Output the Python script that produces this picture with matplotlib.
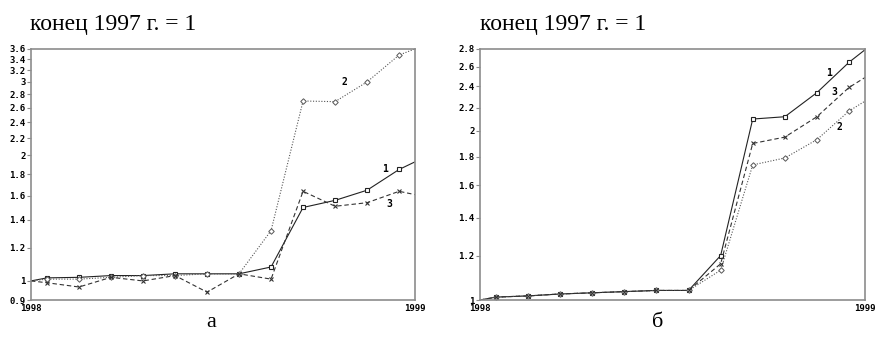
import matplotlib
matplotlib.use('Agg')
from matplotlib import pyplot as plt
from matplotlib.ticker import FixedLocator, FixedFormatter, NullLocator

# месяцы 1998 г.: начало, середины месяцев, конец
months = [0, 0.5, 1.5, 2.5, 3.5, 4.5, 5.5, 6.5, 7.5, 8.5, 9.5, 10.5, 11.5, 12]

# панель а
a_s1 = [1.0, 1.017, 1.02, 1.03, 1.03, 1.04, 1.04, 1.04, 1.08, 1.50, 1.56, 1.65, 1.85, 1.93]
a_s2 = [1.0, 1.01, 1.01, 1.02, 1.03, 1.03, 1.04, 1.04, 1.32, 2.70, 2.69, 3.00, 3.48, 3.60]
a_s3 = [1.0, 0.99, 0.967, 1.02, 1.0, 1.03, 0.94, 1.04, 1.01, 1.64, 1.51, 1.54, 1.64, 1.61]
a_ticks = [0.9, 1, 1.2, 1.4, 1.6, 1.8, 2, 2.2, 2.4, 2.6, 2.8, 3, 3.2, 3.4, 3.6]
a_ticklabels = ['0.9', '1', '1.2', '1.4', '1.6', '1.8', '2', '2.2', '2.4', '2.6', '2.8', '3', '3.2', '3.4', '3.6']

# панель б
b_s1 = [1.0, 1.012, 1.017, 1.025, 1.03, 1.035, 1.04, 1.04, 1.20, 2.10, 2.12, 2.34, 2.65, 2.79]
b_s2 = [1.0, 1.012, 1.017, 1.025, 1.03, 1.035, 1.04, 1.04, 1.13, 1.74, 1.79, 1.93, 2.17, 2.26]
b_s3 = [1.0, 1.012, 1.017, 1.025, 1.03, 1.035, 1.04, 1.04, 1.16, 1.90, 1.95, 2.12, 2.39, 2.49]
b_ticks = [1, 1.2, 1.4, 1.6, 1.8, 2, 2.2, 2.4, 2.6, 2.8]
b_ticklabels = ['1', '1.2', '1.4', '1.6', '1.8', '2', '2.2', '2.4', '2.6', '2.8']

x_ticklabels = ['1998', '1999']

title = 'конец 1997 г. = 1'
mono = dict(family='DejaVu Sans Mono', weight='bold', size=6.5)
axis_gray = '#8c8c8c'


def draw_panel(ax, s1, s2, s3, ticks, ticklabels, ylim, labels):
    mk = range(1, len(months) - 1)
    ax.plot(months, s1, color='#222222', lw=0.8, ls='-', marker='s', ms=3,
            mfc='white', mec='#222222', mew=0.8, markevery=mk)
    ax.plot(months, s2, color='#555555', lw=0.8, ls=(0, (1, 1.5)), marker='D', ms=2.8,
            mfc='white', mec='#555555', mew=0.7, markevery=mk)
    ax.plot(months, s3, color='#333333', lw=0.8, ls=(0, (4, 2.5)), marker='x', ms=3.2,
            mec='#333333', mew=0.8, markevery=mk)
    ax.set_yscale('log')
    ax.set_ylim(*ylim)
    ax.set_xlim(0, 12)
    ax.yaxis.set_major_locator(FixedLocator(ticks))
    ax.yaxis.set_major_formatter(FixedFormatter(ticklabels))
    ax.yaxis.set_minor_locator(NullLocator())
    ax.set_xticks([0, 12])
    ax.set_xticklabels(x_ticklabels)
    ax.tick_params(axis='y', length=3, width=0.8, color=axis_gray, pad=1)
    ax.tick_params(axis='x', length=0, pad=3)
    for lab in ax.get_yticklabels() + ax.get_xticklabels():
        lab.set_fontproperties(matplotlib.font_manager.FontProperties(**mono))
    for sp in ax.spines.values():
        sp.set_color(axis_gray)
        sp.set_linewidth(1.2)
    for txt, xx, yy in labels:
        ax.text(xx, yy, txt, family='DejaVu Sans Mono', weight='bold', fontsize=7,
                ha='center', va='center')


fig = plt.figure(figsize=(8.75, 3.38), dpi=100)
ax1 = fig.add_axes([0.0354, 0.1124, 0.439, 0.743])
ax2 = fig.add_axes([0.5486, 0.1124, 0.44, 0.743])

draw_panel(ax1, a_s1, a_s2, a_s3, a_ticks, a_ticklabels, (0.9, 3.6),
           [('1', 11.05, 1.86), ('2', 9.8, 3.0), ('3', 11.2, 1.53)])
draw_panel(ax2, b_s1, b_s2, b_s3, b_ticks, b_ticklabels, (1.0, 2.8),
           [('1', 10.87, 2.54), ('3', 11.03, 2.35), ('2', 11.2, 2.03)])

fig.text(0.034, 0.911, title, family='Liberation Serif', fontsize=17, ha='left', va='baseline')
fig.text(0.548, 0.911, title, family='Liberation Serif', fontsize=17, ha='left', va='baseline')
fig.text(0.241, 0.045, 'а', family='Liberation Serif', fontsize=16, ha='center', va='center')
fig.text(0.752, 0.045, 'б', family='Liberation Serif', fontsize=16, ha='center', va='center')

fig.savefig('out.png', dpi=100)
plt.close('all')
